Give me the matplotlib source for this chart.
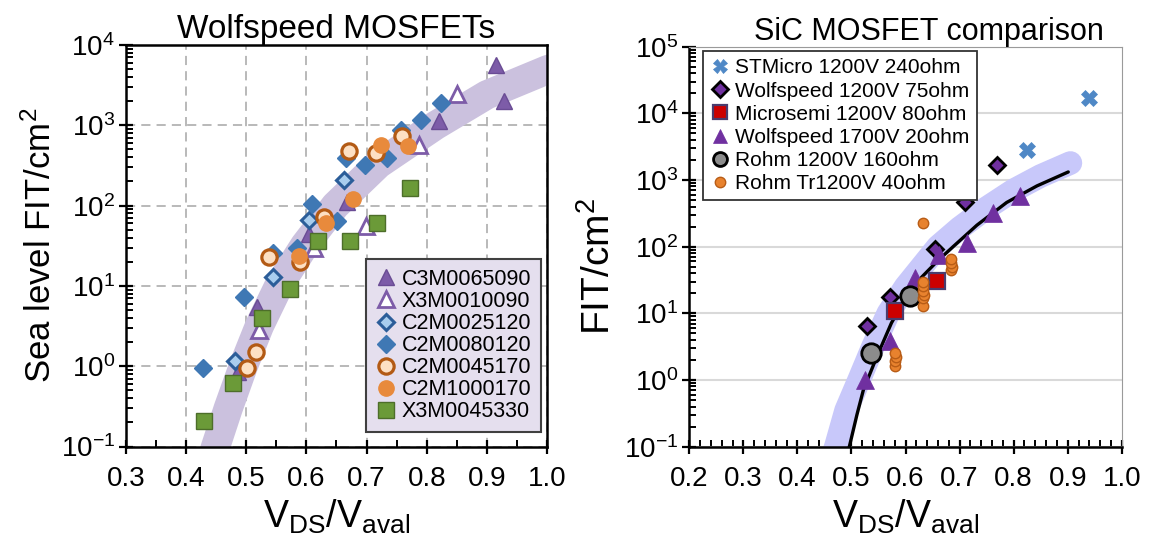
import matplotlib
matplotlib.use('Agg')
import matplotlib.pyplot as plt
from matplotlib.ticker import MultipleLocator, LogLocator, NullFormatter

plt.rcParams['font.family'] = ['Liberation Sans', 'DejaVu Sans']
plt.rcParams['mathtext.fontset'] = 'custom'
plt.rcParams['mathtext.rm'] = 'Liberation Sans'
plt.rcParams['mathtext.it'] = 'Liberation Sans:italic'
plt.rcParams['mathtext.default'] = 'regular'
plt.rcParams['axes.unicode_minus'] = False

# ---- left panel: Wolfspeed MOSFETs ----
c3m0065090_x = [0.487, 0.518, 0.604, 0.668, 0.820, 0.916, 0.928]
c3m0065090_y = [0.85, 5.4, 44, 111, 1130, 5600, 2000]
x3m0010090_x = [0.521, 0.613, 0.699, 0.787, 0.851]
x3m0010090_y = [2.8, 29.5, 55, 575, 2450]
c2m0025120_x = [0.482, 0.545, 0.604, 0.663]
c2m0025120_y = [1.16, 12.8, 66, 207]
c2m0080120_x = [0.428, 0.496, 0.545, 0.585, 0.610, 0.651, 0.665, 0.698, 0.734, 0.757, 0.790, 0.823]
c2m0080120_y = [0.96, 7.3, 25.5, 30, 104, 64, 389, 320, 389, 870, 1165, 1880]
c2m0045170_x = [0.501, 0.516, 0.537, 0.590, 0.630, 0.671, 0.715, 0.759]
c2m0045170_y = [0.95, 1.51, 23, 19.7, 73, 480, 457, 736]
c2m1000170_x = [0.587, 0.633, 0.677, 0.724, 0.769]
c2m1000170_y = [23.5, 60, 122, 570, 550]
x3m0045330_x = [0.429, 0.478, 0.526, 0.573, 0.620, 0.672, 0.718, 0.772]
x3m0045330_y = [0.21, 0.62, 4.0, 9.1, 36, 36, 61, 164]

# fitted trend band (read along its centre)
band_l_x = [0.440, 0.449, 0.470, 0.495, 0.522, 0.554, 0.597, 0.648, 0.720, 0.815, 0.900, 1.000, 1.020]
band_l_y = [0.06, 0.1, 0.3, 1.0, 3.2, 10, 32, 100, 330, 1000, 2400, 4900, 5500]

# ---- right panel: SiC MOSFET comparison ----
st_x = [0.824, 0.940]
st_y = [2830, 16700]
ws75_x = [0.528, 0.571, 0.655, 0.710, 0.769]
ws75_y = [6.5, 17.7, 93, 460, 1680]
ms_x = [0.581, 0.659]
ms_y = [10.7, 31]
ws20_x = [0.525, 0.571, 0.618, 0.661, 0.714, 0.762, 0.811]
ws20_y = [1.0, 3.8, 34, 74, 115, 323, 575]
rohm160_x = [0.537, 0.608]
rohm160_y = [2.5, 18]
rohm40_x = [0.580, 0.581, 0.582, 0.581, 0.632, 0.633, 0.634, 0.633, 0.632, 0.633,
            0.685, 0.686, 0.685, 0.684, 0.633]
rohm40_y = [1.6, 1.9, 2.2, 2.5, 13, 17, 19, 22, 26, 30, 45, 50, 57, 65, 230]

band_r_x = [0.462, 0.471, 0.490, 0.514, 0.540, 0.568, 0.600, 0.630, 0.660, 0.700, 0.750, 0.800, 0.850, 0.905]
band_r_y = [0.06, 0.1, 0.35, 1.0, 3.2, 10, 25, 50, 100, 190, 380, 700, 1150, 1800]
fit_r_x = [0.490, 0.496, 0.510, 0.522, 0.547, 0.574, 0.602, 0.630, 0.660, 0.688, 0.732, 0.787, 0.843, 0.901]
fit_r_y = [0.07, 0.1, 0.3, 0.71, 2.25, 7.2, 18, 35, 62, 100, 210, 460, 815, 1320]

fig = plt.figure(figsize=(11.51, 5.47), dpi=100)
ax1 = fig.add_axes([0.1095, 0.1837, 0.3657, 0.734])
ax2 = fig.add_axes([0.5989, 0.1834, 0.3757, 0.7313])

# left
ax1.plot(band_l_x, band_l_y, color='#cbc1de', lw=21, solid_capstyle='butt',
         solid_joinstyle='round', zorder=1)
ms = dict(linestyle='none', zorder=3)
ax1.plot(c3m0065090_x, c3m0065090_y, marker='^', ms=11, mfc='#7d5ca8', mec='#6a4c94',
         mew=1, label='C3M0065090', **ms)
ax1.plot(x3m0010090_x, x3m0010090_y, marker='^', ms=11, mfc='white', mec='#7d5ca8',
         mew=2, label='X3M0010090', **ms)
ax1.plot(c2m0025120_x, c2m0025120_y, marker='D', ms=8, mfc='#a9cdee', mec='#2b5d99',
         mew=2.2, label='C2M0025120', **ms)
ax1.plot(c2m0080120_x, c2m0080120_y, marker='D', ms=9, mfc='#3f78b4', mec='#3f78b4',
         mew=1, label='C2M0080120', **ms)
ax1.plot(c2m0045170_x, c2m0045170_y, marker='o', ms=11, mfc='#fde0c3', mec='#b35a14',
         mew=2.3, label='C2M0045170', **ms)
ax1.plot(c2m1000170_x, c2m1000170_y, marker='o', ms=11, mfc='#e88a3c', mec='#e88a3c',
         mew=1, label='C2M1000170', **ms)
ax1.plot(x3m0045330_x, x3m0045330_y, marker='s', ms=11, mfc='#6b9a38', mec='#4d6e2a',
         mew=1, label='X3M0045330', **ms)

ax1.set_yscale('log')
ax1.set_xlim(0.3, 1.0)
ax1.set_ylim(0.1, 1e4)
ax1.xaxis.set_major_locator(MultipleLocator(0.1))
ax1.xaxis.set_minor_locator(MultipleLocator(0.05))
ax1.xaxis.set_major_formatter(plt.FuncFormatter(lambda v, p: '%.1f' % v))
ax1.yaxis.set_major_locator(LogLocator(base=10, numticks=10))
ax1.yaxis.set_minor_locator(LogLocator(base=10, subs=range(2, 10), numticks=20))
ax1.yaxis.set_minor_formatter(NullFormatter())
ax1.grid(True, which='major', color='#a6a6a6', linestyle=(0, (6, 4)), lw=1.1, zorder=0)
ax1.set_axisbelow(True)
ax1.tick_params(which='major', direction='inout', length=10, width=1.6, labelsize=20,
                top=False, right=False)
ax1.tick_params(which='minor', direction='in', length=5, width=1.4, top=False, right=False)
ax1.tick_params(axis='x', which='major', pad=9)
ax1.tick_params(axis='y', which='major', pad=3)
for sp in ax1.spines.values():
    sp.set_linewidth(1.8)
ax1.set_title('Wolfspeed MOSFETs', fontsize=24, pad=4)
ax1.set_ylabel('Sea level FIT/cm$^2$', fontsize=25, labelpad=2)
ax1.set_xlabel('V$_{DS}$/V$_{aval}$', fontsize=27, labelpad=4)
leg1 = ax1.legend(loc='lower right', bbox_to_anchor=(0.986, 0.036), borderaxespad=0,
                  fontsize=15.5, numpoints=1, handlelength=0.9, handletextpad=0.3,
                  labelspacing=0.05, borderpad=0.45, fancybox=False, framealpha=1,
                  facecolor='#e5dfee', edgecolor='#404040')
leg1.get_frame().set_linewidth(1.5)

# right
ax2.plot(band_r_x, band_r_y, color='#c8c8fa', lw=17, solid_capstyle='round',
         solid_joinstyle='round', zorder=1)
ax2.plot(fit_r_x, fit_r_y, color='black', lw=2.4, solid_capstyle='round', zorder=2)
ax2.plot(st_x, st_y, marker='X', ms=12, mfc='#4f88c6', mec='#4f88c6', mew=0.5,
         label='STMicro 1200V 240ohm', **ms)
ax2.plot(ws75_x, ws75_y, marker='D', ms=8, mfc='#7030a0', mec='black', mew=2,
         label='Wolfspeed 1200V 75ohm', **ms)
ax2.plot(ms_x, ms_y, marker='s', ms=11, mfc='#cc0000', mec='#4a3c6e', mew=1.6,
         label='Microsemi 1200V 80ohm', **ms)
ax2.plot(ws20_x, ws20_y, marker='^', ms=13, mfc='#7030a0', mec='#7030a0', mew=0.5,
         label='Wolfspeed 1700V 20ohm', **ms)
ax2.plot(rohm160_x, rohm160_y, marker='o', ms=14, mfc='#8c8c8c', mec='black', mew=2,
         label='Rohm 1200V 160ohm', **ms)
ax2.plot(rohm40_x, rohm40_y, marker='o', ms=7.5, mfc='#e8822e', mec='#b85c16', mew=1,
         label='Rohm Tr1200V 40ohm', **ms)

ax2.set_yscale('log')
ax2.set_xlim(0.2, 1.0)
ax2.set_ylim(0.1, 1e5)
ax2.xaxis.set_major_locator(MultipleLocator(0.1))
ax2.xaxis.set_minor_locator(MultipleLocator(0.02))
ax2.xaxis.set_major_formatter(plt.FuncFormatter(lambda v, p: '%.1f' % v))
ax2.yaxis.set_major_locator(LogLocator(base=10, numticks=10))
ax2.yaxis.set_minor_locator(LogLocator(base=10, subs=range(2, 10), numticks=20))
ax2.yaxis.set_minor_formatter(NullFormatter())
ax2.grid(True, axis='y', which='major', color='#d9d9d9', lw=1.5, zorder=0)
ax2.set_axisbelow(True)
ax2.tick_params(which='major', direction='inout', length=10, width=1.6, labelsize=20,
                top=False, right=False)
ax2.tick_params(which='minor', direction='in', length=5, width=1.4, top=False, right=False)
ax2.tick_params(axis='x', which='major', pad=9)
ax2.tick_params(axis='y', which='major', pad=3)
ax2.spines['left'].set_linewidth(1.8)
ax2.spines['bottom'].set_linewidth(1.8)
ax2.spines['top'].set_color('#9a9a9a')
ax2.spines['right'].set_color('#9a9a9a')
ax2.set_title('SiC MOSFET comparison', fontsize=22, pad=5, x=0.555)
ax2.set_ylabel('FIT/cm$^2$', fontsize=28)
ax2.yaxis.set_label_coords(-0.165, 0.45)
ax2.set_xlabel('V$_{DS}$/V$_{aval}$', fontsize=27, labelpad=4)
leg2 = ax2.legend(loc='upper left', bbox_to_anchor=(0.032, 0.989), borderaxespad=0,
                  fontsize=15, numpoints=1, handlelength=0.9, handletextpad=0.3,
                  labelspacing=0.2, borderpad=0.35, fancybox=False, framealpha=1,
                  facecolor='white', edgecolor='#333333')
leg2.get_frame().set_linewidth(1.3)
for h in leg2.legend_handles:
    h.set_markersize(min(h.get_markersize(), 10))
for h in leg1.legend_handles:
    h.set_markersize(min(h.get_markersize(), 11))

fig.savefig('out.png', dpi=100)
